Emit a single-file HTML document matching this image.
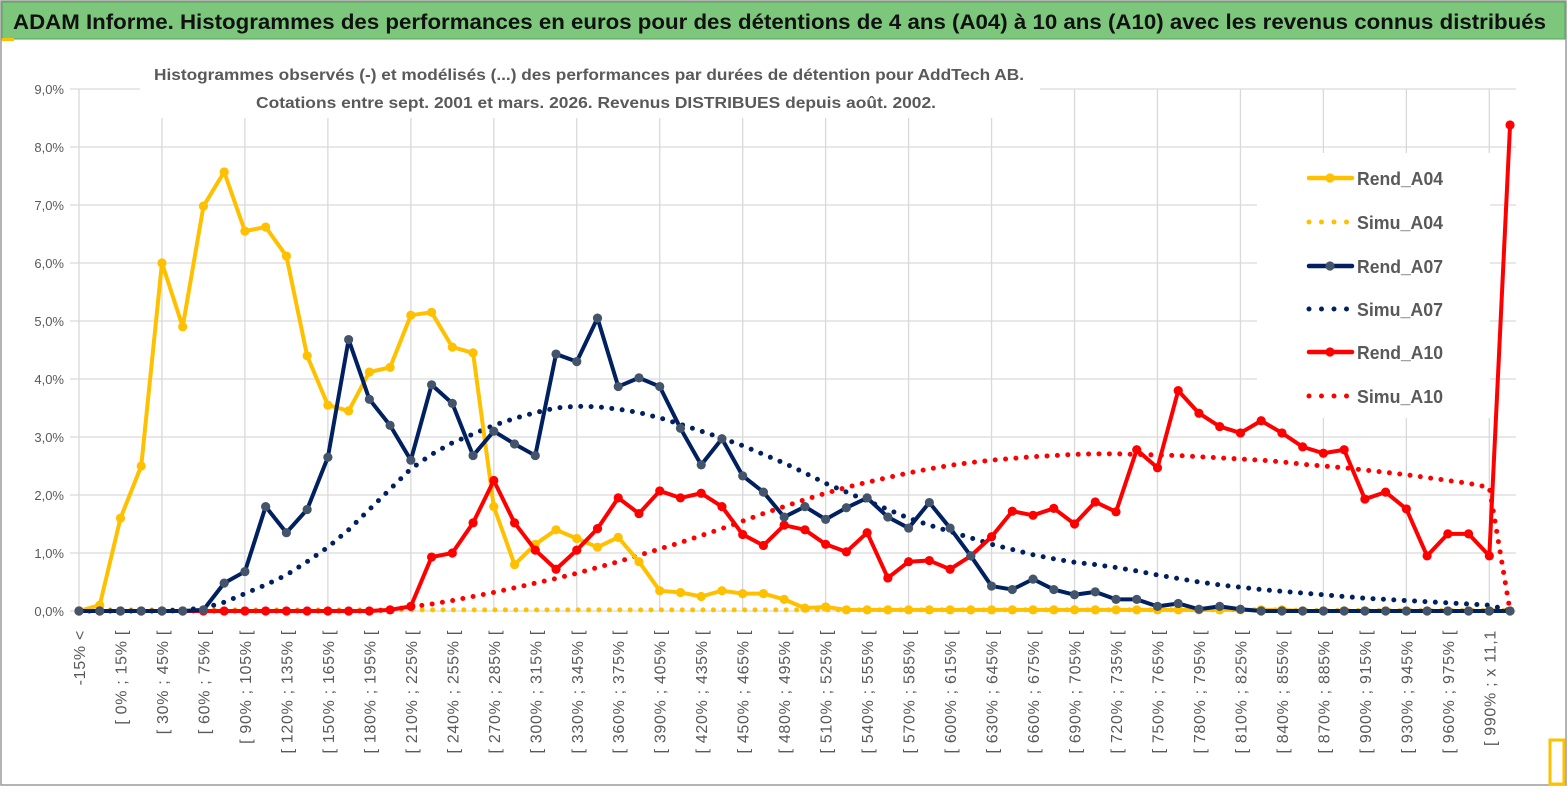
<!DOCTYPE html>
<html><head><meta charset="utf-8"><style>
html,body{margin:0;padding:0;background:#fff;}
body{width:1567px;height:789px;overflow:hidden;font-family:"Liberation Sans",sans-serif;}
</style></head><body>
<svg id="chart" width="1567" height="789" xmlns="http://www.w3.org/2000/svg" style="position:absolute;left:0;top:0">
<rect x="0" y="0" width="1567" height="789" fill="#fff"/>
<rect x="1" y="1" width="1565" height="784" fill="none" stroke="#9a9a9a" stroke-width="1.5"/>
<rect x="2" y="2" width="1563" height="37" fill="#7cc77c" stroke="#5a9e5a" stroke-width="1"/>
<rect x="2" y="38" width="12" height="3" fill="#ffc000"/>
<text x="13" y="29" font-size="21" font-weight="bold" fill="#111" textLength="1533" lengthAdjust="spacingAndGlyphs">ADAM Informe. Histogrammes des performances en euros pour des détentions de 4 ans (A04) à 10 ans (A10) avec les revenus connus distribués</text>
<rect x="1550" y="740" width="14" height="44" fill="none" stroke="#ffc000" stroke-width="3"/>
<g id="grid"></g>
<rect x="140" y="58" width="900" height="60" fill="#fff"/>
<rect x="1257" y="153" width="233" height="265" fill="#fff"/>
<text x="589" y="80" font-size="16" font-weight="bold" fill="#595959" text-anchor="middle" textLength="870" lengthAdjust="spacingAndGlyphs">Histogrammes observés (-) et modélisés (...) des performances par durées de détention pour AddTech AB.</text>
<text x="596" y="108" font-size="16" font-weight="bold" fill="#595959" text-anchor="middle" textLength="680" lengthAdjust="spacingAndGlyphs">Cotations entre sept. 2001 et mars. 2026. Revenus DISTRIBUES depuis août. 2002.</text>
<g id="yaxis"></g><g id="xaxis"></g><g id="series"></g><g id="legend"></g>
</svg>
<script>
const categories = (function(){const c=["-15% <","[ -15% ; 0% ["];for(let k=0;k<=990;k+=15){c.push(k===990?"[ 990% ; x 11,1":"[ "+k+"% ; "+(k+15)+"% [");}c.push("x 11,1 <");return c;})();
const yTicks = [0,1,2,3,4,5,6,7,8,9];
const yTickLabels = ["0,0%","1,0%","2,0%","3,0%","4,0%","5,0%","6,0%","7,0%","8,0%","9,0%"];
const rendA04 = [0,0.1,1.6,2.5,6.0,4.9,6.98,7.57,6.55,6.62,6.12,4.4,3.55,3.45,4.12,4.2,5.1,5.15,4.55,4.45,1.8,0.8,1.15,1.4,1.25,1.1,1.27,0.85,0.35,0.32,0.25,0.35,0.3,0.3,0.2,0.05,0.07,0.02,0.02,0.02,0.02,0.02,0.02,0.02,0.02,0.02,0.02,0.02,0.02,0.02,0.02,0.02,0.02,0.02,0.02,0.02,0.02,0.02,0.02,0,0,0,0,0,0,0,0,0,0,0];
const simuA04 = [0.02,0.02,0.02,0.02,0.02,0.02,0.02,0.02,0.02,0.02,0.02,0.02,0.02,0.02,0.02,0.02,0.02,0.02,0.02,0.02,0.02,0.02,0.02,0.02,0.02,0.02,0.02,0.02,0.02,0.02,0.02,0.02,0.02,0.02,0.02,0.02,0.02,0.02,0.02,0.02,0.02,0.02,0.02,0.02,0.02,0.02,0.02,0.02,0.02,0.02,0.02,0.02,0.02,0.02,0.02,0.02,0.02,0.02,0.02,0.01,0.01,0.01,0.01,0.01,0.01,0.01,0.01,0.01,0.01,0.01];
const rendA07 = [0,0,0,0,0,0,0.02,0.48,0.68,1.8,1.35,1.75,2.65,4.68,3.65,3.2,2.6,3.9,3.58,2.68,3.1,2.88,2.68,4.43,4.3,5.05,3.87,4.02,3.87,3.15,2.52,2.97,2.33,2.05,1.62,1.8,1.58,1.78,1.95,1.62,1.43,1.87,1.43,0.95,0.43,0.37,0.55,0.37,0.28,0.33,0.2,0.2,0.08,0.13,0.03,0.08,0.03,0,0,0,0,0,0,0,0,0,0,0,0,0];
const simuA07 = [0,0,0,0,0,0.02,0.05,0.15,0.3,0.45,0.62,0.85,1.1,1.4,1.75,2.1,2.45,2.7,2.9,3.05,3.2,3.32,3.42,3.5,3.53,3.52,3.48,3.42,3.33,3.22,3.1,2.98,2.85,2.7,2.55,2.38,2.2,2.05,1.9,1.75,1.6,1.48,1.37,1.26,1.15,1.06,0.97,0.9,0.84,0.8,0.75,0.69,0.62,0.56,0.5,0.45,0.41,0.37,0.34,0.31,0.28,0.25,0.22,0.2,0.18,0.16,0.14,0.12,0.1,0.01];
const rendA10 = [0,0,0,0,0,0,0,0,0,0,0,0,0,0,0,0.02,0.08,0.93,1.0,1.52,2.25,1.52,1.05,0.72,1.05,1.42,1.95,1.68,2.07,1.95,2.03,1.8,1.32,1.13,1.48,1.4,1.15,1.02,1.35,0.57,0.85,0.87,0.72,0.95,1.28,1.72,1.65,1.77,1.5,1.88,1.71,2.78,2.47,3.8,3.41,3.18,3.07,3.28,3.07,2.83,2.72,2.78,1.93,2.05,1.76,0.95,1.33,1.33,0.95,8.38];
const simuA10 = [0,0,0,0,0,0,0,0,0,0,0,0,0,0,0,0.02,0.07,0.12,0.18,0.25,0.32,0.4,0.48,0.56,0.65,0.75,0.85,0.96,1.07,1.18,1.3,1.42,1.55,1.68,1.8,1.92,2.03,2.13,2.22,2.3,2.38,2.45,2.51,2.56,2.6,2.63,2.66,2.68,2.7,2.71,2.71,2.7,2.69,2.68,2.66,2.64,2.62,2.6,2.57,2.53,2.5,2.47,2.43,2.39,2.35,2.3,2.25,2.2,2.13,0];

const NS="http://www.w3.org/2000/svg";
const X0=79, DX=20.74, Y0=611, DY=58;
function xs(i){return X0+i*DX;}
function ys(v){return Y0-v*DY;}
function mk(tag,parent,attrs){const e=document.createElementNS(NS,tag);for(const k in attrs)e.setAttribute(k,attrs[k]);parent.appendChild(e);return e;}
const grid=document.getElementById('grid'),yax=document.getElementById('yaxis'),xax=document.getElementById('xaxis'),ser=document.getElementById('series'),leg=document.getElementById('legend');
yTicks.forEach((t,k)=>{
  const l=mk('line',grid,{x1:70,x2:1516,y1:ys(t),y2:ys(t),stroke:'#d9d9d9','stroke-width':1.3});
  
  
  const tx=mk('text',yax,{x:64,y:ys(t)+5,'font-size':13,fill:'#595959','text-anchor':'end'});
  tx.textContent=yTickLabels[k];
  
  
});
for(let i=0;i<categories.length;i+=4){
  const l=mk('line',grid,{x1:xs(i),x2:xs(i),y1:ys(9),y2:Y0,stroke:'#d9d9d9','stroke-width':1.3});
  
  
}
for(let i=0;i<categories.length;i+=2){
  const x=xs(i)+6, y=630;
  const tx=mk('text',xax,{x:x,y:y,'font-size':16,'letter-spacing':0.7,fill:'#595959','text-anchor':'end',transform:'rotate(-90 '+x+' '+y+')'});
  tx.textContent=categories[i];
  
  
}
function dotted(vals,color,name){
  const p=mk('polyline',ser,{points:vals.map((v,i)=>xs(i)+','+ys(v)).join(' '),fill:'none',stroke:color,'stroke-width':5,'stroke-linecap':'round','stroke-dasharray':'0 10.4'});
  
  
}
function solid(vals,color,mcolor,name){
  const g=mk('g',ser,{});
  
  
  mk('polyline',g,{points:vals.map((v,i)=>xs(i)+','+ys(v)).join(' '),fill:'none',stroke:color,'stroke-width':4,'stroke-linejoin':'round'});
  vals.forEach((v,i)=>{
    const c=mk('circle',g,{cx:xs(i),cy:ys(v),r:4.6,fill:mcolor});
    
    
  });
}
dotted(simuA04,'#ffc000','simu-a04-line');
dotted(simuA10,'#ff0000','simu-a10-line');
dotted(simuA07,'#002060','simu-a07-line');
solid(rendA04,'#ffc000','#ffc000','rend-a04-line');
solid(rendA10,'#ff0000','#ff0000','rend-a10-line');
solid(rendA07,'#002060','#44546a','rend-a07-line');
const legendItems=[["Rend_A04","#ffc000","#ffc000",false,178],["Simu_A04","#ffc000",null,true,222],["Rend_A07","#002060","#44546a",false,266],["Simu_A07","#002060",null,true,309],["Rend_A10","#ff0000","#ff0000",false,352],["Simu_A10","#ff0000",null,true,396]];
legendItems.forEach(it=>{
  const g=mk('g',leg,{});
  
  
  const y=it[4];
  if(it[3]){mk('line',g,{x1:1309,x2:1352,y1:y,y2:y,stroke:it[1],'stroke-width':5,'stroke-linecap':'round','stroke-dasharray':'0 12.5'});}
  else{mk('line',g,{x1:1309,x2:1352,y1:y,y2:y,stroke:it[1],'stroke-width':4.5,'stroke-linecap':'round'});mk('circle',g,{cx:1330,cy:y,r:4.6,fill:it[2]});}
  const t=mk('text',g,{x:1357,y:y+7,'font-size':18,'font-weight':'bold',fill:'#595959',textLength:86,lengthAdjust:'spacingAndGlyphs'});
  t.textContent=it[0];
});
</script>
</body></html>
